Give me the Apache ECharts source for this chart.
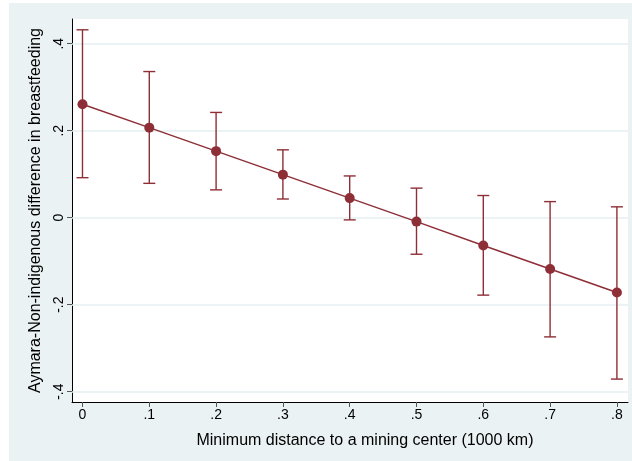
<!DOCTYPE html>
<html>
<head>
<meta charset="utf-8">
<script src="https://cdn.jsdelivr.net/npm/echarts@6/dist/echarts.min.js"></script>
<style>html,body{margin:0;padding:0;background:#fff}#c{width:632px;height:461px}</style>
</head>
<body>
<div id="c"></div>
<script>
const xValues = [0, 0.1, 0.2, 0.3, 0.4, 0.5, 0.6, 0.7, 0.8];
const estimates = [0.261, 0.207, 0.153, 0.099, 0.045, -0.009, -0.064, -0.118, -0.172];
const upper = [0.432, 0.336, 0.242, 0.156, 0.096, 0.068, 0.051, 0.037, 0.025];
const lower = [0.092, 0.079, 0.064, 0.043, -0.005, -0.084, -0.178, -0.274, -0.371];
const xTicks = [0, 0.1, 0.2, 0.3, 0.4, 0.5, 0.6, 0.7, 0.8];
const yTicks = [-0.4, -0.2, 0, 0.2, 0.4];
const xTitle = 'Minimum distance to a mining center (1000 km)';
const yTitle = 'Aymara-Non-indigenous difference in breastfeeding';

const col = '#8E2F37';
const fmt = v => {
  const r = Math.round(v * 10) / 10;
  if (r === 0) return '0';
  let s = r.toFixed(1);
  return s.replace('0.', '.');
};
const font = 'Liberation Sans, Arial, sans-serif';
const chart = echarts.init(document.getElementById('c'), null, {renderer: 'canvas'});
chart.setOption({
  backgroundColor: '#fff',
  animation: false,
  graphic: [{type: 'rect', shape: {x: 9, y: 3, width: 623, height: 458}, style: {fill: '#EAF2F3'}, z: -10, silent: true}],
  grid: {left: 72, top: 19, right: 4, bottom: 59, show: true, backgroundColor: '#fff', borderWidth: 0, z: 0},
  xAxis: {
    type: 'value', min: -0.0157, max: 0.8166,
    name: xTitle, nameLocation: 'middle', nameGap: 31, nameMoveOverlap: false,
    nameTextStyle: {fontFamily: font, fontSize: 16, color: '#000', padding: [0, 0, 0, 30]},
    axisLine: {show: true, onZero: false, lineStyle: {color: '#000', width: 1}},
    axisTick: {show: true, length: 5, customValues: xTicks, lineStyle: {color: '#555', width: 1}},
    axisLabel: {customValues: xTicks, formatter: fmt, fontFamily: font, fontSize: 14, color: '#000', margin: 6},
    splitLine: {show: false}
  },
  yAxis: {
    type: 'value', min: -0.4237, max: 0.4568,
    name: yTitle, nameLocation: 'middle', nameGap: 28, nameMoveOverlap: false,
    nameTextStyle: {fontFamily: font, fontSize: 16, color: '#000'},
    axisLine: {show: true, onZero: false, lineStyle: {color: '#000', width: 1}},
    axisTick: {show: true, length: 5, customValues: yTicks, lineStyle: {color: '#555', width: 1}},
    axisLabel: {customValues: yTicks, formatter: fmt, rotate: 90, fontFamily: font, fontSize: 14, color: '#000', margin: 6},
    splitLine: {show: false}
  },
  series: [
    {
      type: 'line', data: xValues.map((x, i) => [x, estimates[i]]),
      symbol: 'circle', symbolSize: 10, z: 5,
      lineStyle: {color: col, width: 1.5}, itemStyle: {color: col},
      markLine: {
        silent: true, symbol: 'none', label: {show: false}, z: 1,
        lineStyle: {color: '#E6EFF0', width: 1.5, type: 'solid'},
        data: yTicks.map(v => ({yAxis: v}))
      }
    },
    {
      type: 'custom', z: 4,
      data: xValues.map((x, i) => [x, lower[i], upper[i]]),
      renderItem: function (params, api) {
        const x = api.value(0);
        const lo = api.coord([x, api.value(1)]);
        const hi = api.coord([x, api.value(2)]);
        const w = 6;
        const st = {stroke: col, lineWidth: 1.4};
        return {type: 'group', children: [
          {type: 'line', shape: {x1: lo[0], y1: lo[1], x2: hi[0], y2: hi[1]}, style: st},
          {type: 'line', shape: {x1: lo[0] - w, y1: lo[1], x2: lo[0] + w, y2: lo[1]}, style: st},
          {type: 'line', shape: {x1: hi[0] - w, y1: hi[1], x2: hi[0] + w, y2: hi[1]}, style: st}
        ]};
      }
    }
  ]
});
</script>
</body>
</html>
